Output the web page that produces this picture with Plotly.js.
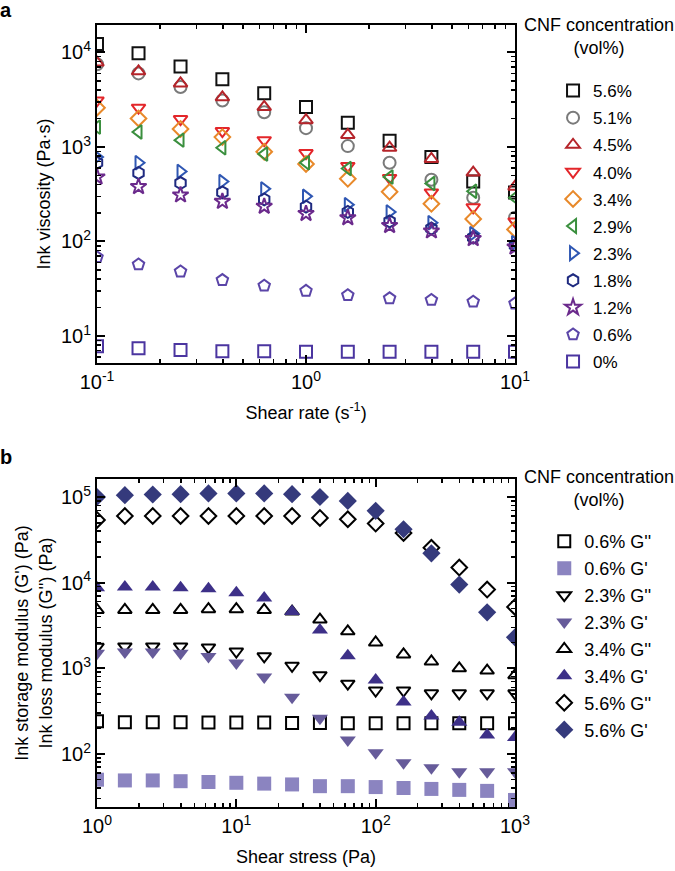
<!DOCTYPE html>
<html>
<head>
<meta charset="utf-8">
<script src="https://cdn.plot.ly/plotly-3.0.1.min.js"></script>
<style>
  html, body { margin: 0; padding: 0; background: #ffffff; }
  #plot { width: 675px; height: 871px; }
</style>
</head>
<body>
<div id="plot"></div>
<script>
// Panel a: viscosity vs shear rate
const shearRate = [0.1, 0.158, 0.251, 0.398, 0.631, 1, 1.585, 2.512, 3.981, 6.31, 10];
const concA = ["5.6%", "5.1%", "4.5%", "4.0%", "3.4%", "2.9%", "2.3%", "1.8%", "1.2%", "0.6%", "0%"];
const visc56 = [12300, 9800, 7100, 5200, 3700, 2650, 1800, 1160, 780, 430, 330];
const visc51 = [7500, 6000, 4300, 3100, 2330, 1580, 1020, 680, 450, 290, 178];
const visc45 = [7800, 6300, 4700, 3350, 2650, 1920, 1340, 980, 745, 535, 380];
const visc40 = [3100, 2600, 1970, 1470, 1180, 860, 630, 470, 330, 230, 163];
const visc34 = [2600, 2000, 1550, 1270, 890, 660, 460, 335, 250, 173, 134];
const visc29 = [1620, 1440, 1180, 980, 840, 680, 590, 480, 410, 340, 290];
const visc23 = [780, 680, 550, 430, 360, 300, 245, 205, 158, 121, 97];
const visc18 = [680, 530, 415, 330, 278, 233, 205, 163, 137, 110, 91];
const visc12 = [480, 380, 310, 265, 235, 197, 178, 147, 129, 107, 87];
const visc06 = [68, 57, 48, 39, 34, 30, 27, 25, 24, 23, 22];
const visc0 = [7.8, 7.4, 7.1, 6.9, 6.9, 6.8, 6.8, 6.8, 6.8, 6.8, 6.8];

// Panel b: moduli vs shear stress
const shearStress = [1, 1.585, 2.512, 3.981, 6.31, 10, 15.85, 25.12, 39.81, 63.1, 100, 158.5, 251.2, 398.1, 631, 1000];
const namesB = ["0.6% G''", "0.6% G'", "2.3% G''", "2.3% G'", "3.4% G''", "3.4% G'", "5.6% G''", "5.6% G'"];
const loss06 = [240, 235, 235, 235, 233, 232, 232, 230, 230, 228, 228, 228, 228, 228, 228, 228];
const stor06 = [50, 49, 49, 48, 47, 46, 45, 44, 42, 42, 41, 40, 39, 38, 37, 29];
const loss23 = [1780, 1800, 1800, 1800, 1750, 1570, 1380, 1070, 830, 660, 550, 550, 510, 510, 510, 510];
const stor23 = [1500, 1550, 1550, 1500, 1370, 1150, 790, 460, 260, 145, 103, 79, 69, 62, 62, 62];
const loss34 = [4800, 4800, 4800, 4800, 4900, 4900, 4800, 4600, 3700, 2700, 2000, 1450, 1200, 1000, 940, 830];
const stor34 = [8700, 8900, 8900, 8700, 8500, 7600, 6600, 4600, 2800, 1400, 730, 405, 277, 235, 166, 155];
const loss56 = [54000, 60000, 60000, 60000, 60000, 60000, 60000, 60000, 57000, 55000, 49000, 38000, 25500, 15000, 8300, 5200];
const stor56 = [100000, 105000, 107000, 108000, 110000, 110000, 110000, 108000, 100000, 90000, 69000, 42000, 22000, 9500, 4500, 2300];

// tick labels
const tickValsA = [0.1, 1, 10];
const tickTextA = ["10<sup>-1</sup>", "10<sup>0</sup>", "10<sup>1</sup>"];
const yTickValsA = [10, 100, 1000, 10000];
const yTickTextA = ["10<sup>1</sup>", "10<sup>2</sup>", "10<sup>3</sup>", "10<sup>4</sup>"];
const tickValsB = [1, 10, 100, 1000];
const tickTextB = ["10<sup>0</sup>", "10<sup>1</sup>", "10<sup>2</sup>", "10<sup>3</sup>"];
const yTickValsB = [100, 1000, 10000, 100000];
const yTickTextB = ["10<sup>2</sup>", "10<sup>3</sup>", "10<sup>4</sup>", "10<sup>5</sup>"];

const FONT = "Liberation Sans, Arial, sans-serif";

// minor ticks at 2..9 of each decade
function minorVals(lo, hi) {
  const out = [];
  for (let e = lo; e < hi; e++) {
    for (let k = 2; k <= 9; k++) out.push(k * Math.pow(10, e));
  }
  return out;
}

function logAxis(range, domain, anchor, vals, text, minor, title, standoff) {
  return {
    type: "log",
    range: range,
    domain: domain,
    anchor: anchor,
    tickmode: "array",
    tickvals: vals,
    ticktext: text,
    ticks: "inside",
    ticklen: 8,
    tickwidth: 2,
    tickcolor: "#000",
    minor: { tickmode: "array", tickvals: minor, ticks: "inside", ticklen: 4, tickwidth: 1.5, tickcolor: "#000", showgrid: false },
    showline: true,
    linewidth: 2,
    linecolor: "#000",
    mirror: "allticks",
    showgrid: false,
    zeroline: false,
    tickfont: { family: FONT, size: 20, color: "#000" },
    title: { text: title, standoff: standoff, font: { family: FONT, size: 18, color: "#000" } },
  };
}

// Panel a traces
const seriesA = [visc56, visc51, visc45, visc40, visc34, visc29, visc23, visc18, visc12, visc06, visc0];
const symbolsA = ["square-open", "circle-open", "triangle-up-open", "triangle-down-open", "diamond-open",
  "triangle-left-open", "triangle-right-open", "hexagon-open", "star-open", "pentagon-open", "square-open"];
const colorsA = ["#111111", "#7a7a7a", "#b5242a", "#e3262a", "#e8892a", "#3a8f3e", "#2f57b3", "#1f2a80", "#6b2a8c", "#5b45a8", "#4b35a0"];

const traces = [];
for (let i = 0; i < seriesA.length; i++) {
  traces.push({
    x: shearRate,
    y: seriesA[i],
    name: concA[i],
    type: "scatter",
    mode: "markers",
    xaxis: "x",
    yaxis: "y",
    legend: "legend",
    legendgroup: "a" + i,
    marker: { symbol: symbolsA[i], size: 12, color: colorsA[i], line: { color: colorsA[i], width: 2 } },
  });
}

// Panel b traces
const seriesB = [loss06, stor06, loss23, stor23, loss34, stor34, loss56, stor56];
const symbolsB = ["square-open", "square", "triangle-down-open", "triangle-down", "triangle-up-open", "triangle-up", "diamond-open", "diamond"];
const colorsB = ["#000000", "#8b84c0", "#000000", "#665b9a", "#000000", "#3d3088", "#000000", "#353a7c"];
for (let i = 0; i < seriesB.length; i++) {
  const open = symbolsB[i].endsWith("-open");
  traces.push({
    x: shearStress,
    y: seriesB[i],
    name: namesB[i],
    type: "scatter",
    mode: "markers",
    xaxis: "x2",
    yaxis: "y2",
    legend: "legend2",
    legendgroup: "b" + i,
    marker: {
      symbol: symbolsB[i],
      size: open ? 12 : 14,
      color: colorsB[i],
      line: { color: colorsB[i], width: open ? 2 : 0 },
    },
  });
}

const layout = {
  width: 675,
  height: 871,
  margin: { l: 97, r: 160, t: 25, b: 64 },
  paper_bgcolor: "#ffffff",
  plot_bgcolor: "#ffffff",
  font: { family: FONT, color: "#000" },
  xaxis: logAxis([-1, 1], [0, 1], "y", tickValsA, tickTextA, minorVals(-1, 1), "Shear rate (s<sup>-1</sup>)", 14),
  yaxis: logAxis([0.714, 4.29], [0.5678, 1], "x", yTickValsA, yTickTextA, minorVals(0, 5), "Ink viscosity (Pa·s)", 6),
  xaxis2: logAxis([0, 3], [0, 1], "y2", tickValsB, tickTextB, minorVals(0, 3), "Shear stress (Pa)", 14),
  yaxis2: logAxis([1.38, 5.21], [0, 0.4194], "x2", yTickValsB, yTickTextB, minorVals(1, 6),
    "Ink storage modulus (G') (Pa)<br>Ink loss modulus (G'') (Pa)", 4),
  legend: {
    x: 1.091, y: 0.9386, xanchor: "left", yanchor: "top",
    font: { family: FONT, size: 17, color: "#000" },
    tracegroupgap: 2,
    bgcolor: "rgba(0,0,0,0)",
  },
  legend2: {
    x: 1.07, y: 0.363, xanchor: "left", yanchor: "top",
    font: { family: FONT, size: 18, color: "#000" },
    tracegroupgap: 0.5,
    bgcolor: "rgba(0,0,0,0)",
  },
  annotations: [
    { xref: "paper", yref: "paper", x: 1.201, y: 0.9853, xanchor: "center", yanchor: "middle",
      text: "CNF concentration<br>(vol%)", showarrow: false, font: { family: FONT, size: 18, color: "#000" } },
    { xref: "paper", yref: "paper", x: 1.201, y: 0.4073, xanchor: "center", yanchor: "middle",
      text: "CNF concentration<br>(vol%)", showarrow: false, font: { family: FONT, size: 18, color: "#000" } },
    { xref: "paper", yref: "paper", x: -0.218, y: 1.019, xanchor: "center", yanchor: "middle",
      text: "<b>a</b>", showarrow: false, font: { family: FONT, size: 20, color: "#000" } },
    { xref: "paper", yref: "paper", x: -0.218, y: 0.4476, xanchor: "center", yanchor: "middle",
      text: "<b>b</b>", showarrow: false, font: { family: FONT, size: 20, color: "#000" } },
  ],
};

Plotly.newPlot("plot", traces, layout, { displayModeBar: false, staticPlot: true });
</script>
</body>
</html>
